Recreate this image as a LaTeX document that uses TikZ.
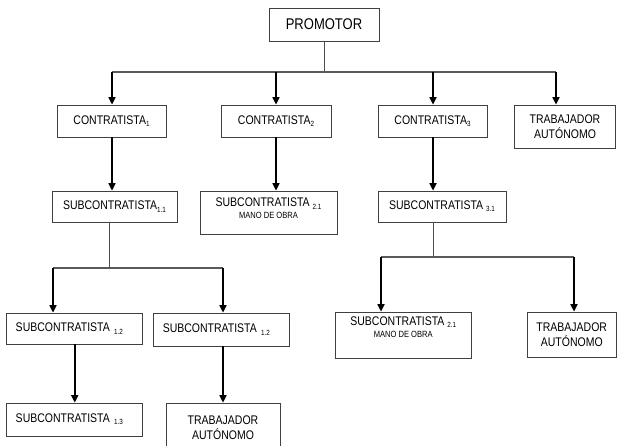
\documentclass[tikz,border=0pt]{standalone}
\usepackage{fontspec}
\setmainfont{Liberation Sans}[FakeStretch=0.84]
\usetikzlibrary{arrows.meta}
\newcommand{\idx}[1]{\raisebox{-0.35ex}{\fontsize{7.5}{8}\selectfont #1}}

\begin{document}
\begin{tikzpicture}
[x=1pt,y=-1pt,
box/.style={draw=black!75,line width=0.8pt,inner sep=2pt,align=center,font=\fontsize{12.5}{15}\selectfont},
lbox/.style={box,align=left,inner xsep=9pt,text width=118pt,minimum height=31pt},
arr/.style={line width=1.6pt,-{Triangle[width=7pt,length=7.5pt]}},
bar/.style={line width=1.5pt,draw=black!65},
stem/.style={line width=0.8pt,draw=black!70}]
\useasboundingbox (0,0) rectangle (617,445);
\clip (0,0) rectangle (617,445);

\node[box,minimum width=110pt,minimum height=33pt,font=\fontsize{15.5}{17}\selectfont] (prom) at (324,24.5) {PROMOTOR};

\node[box,minimum width=109pt,minimum height=32pt] (c1) at (111.5,121) {CONTRATISTA\idx{1}};
\node[box,minimum width=110pt,minimum height=32pt] (c2) at (276,121) {CONTRATISTA\idx{2}};
\node[box,minimum width=109pt,minimum height=32pt] (c3) at (432.5,121) {CONTRATISTA\idx{3}};
\node[box,minimum width=101pt,minimum height=43pt] (ta1) at (565,126.5) {TRABAJADOR\\AUTÓNOMO};

\node[box,minimum width=125pt,minimum height=31pt] (s11) at (114.5,206.5) {SUBCONTRATISTA\idx{1.1}};
\node[box,minimum width=137pt,minimum height=43pt,text depth=8pt] (s21) at (268.5,212.5) {SUBCONTRATISTA \idx{2.1}\\[-3pt]{\fontsize{9}{10}\selectfont MANO DE OBRA}};
\node[box,minimum width=128pt,minimum height=31pt] (s31) at (442,206.5) {SUBCONTRATISTA \idx{3.1}};

\node[lbox] (s12a) at (74.75,328.5) {SUBCONTRATISTA \idx{1.2}};
\node[lbox,minimum height=33pt] (s12b) at (221.75,329.5) {SUBCONTRATISTA \idx{1.2}};
\node[box,minimum width=135.5pt,minimum height=46pt,text depth=16pt] (s21b) at (403.25,335) {SUBCONTRATISTA \idx{2.1}\\[-3pt]{\fontsize{9}{10}\selectfont MANO DE OBRA}};
\node[box,minimum width=88.5pt,minimum height=45pt] (ta2) at (571.75,334.5) {TRABAJADOR\\AUTÓNOMO};

\node[lbox,minimum height=33pt] (s13) at (74.75,419.5) {SUBCONTRATISTA \idx{1.3}};
\node[box,minimum width=114pt,minimum height=50pt] (ta3) at (223,428) {TRABAJADOR\\AUTÓNOMO};

\coordinate (j1) at (112,72);
\coordinate (j2) at (276,72);
\coordinate (j3) at (433,72);
\coordinate (j4) at (556,72);
\draw[stem] (prom) -- (prom |- j1);
\draw[bar] (j1) -- (j4);
\draw[arr] (j1) -- (j1 |- c1.north);
\draw[arr] (j2) -- (j2 |- c2.north);
\draw[arr] (j3) -- (j3 |- c3.north);
\draw[arr] (j4) -- (j4 |- ta1.north);

\draw[arr] (c1.south -| j1) -- (j1 |- s11.north);
\draw[arr] (c2.south -| j2) -- (j2 |- s21.north);
\draw[arr] (c3.south -| j3) -- (j3 |- s31.north);

\coordinate (k1) at (109.4,268);
\coordinate (k1a) at (53,268);
\coordinate (k1b) at (223,268);
\draw[stem] (s11.south -| k1) -- (k1);
\draw[bar] (k1a) -- (k1b);
\draw[arr] (k1a) -- (k1a |- s12a.north);
\draw[arr] (k1b) -- (k1b |- s12b.north);

\coordinate (k3) at (433,257);
\coordinate (k3a) at (381,257);
\coordinate (k3b) at (574,257);
\draw[stem] (s31.south -| k3) -- (k3);
\draw[bar] (k3a) -- (k3b);
\draw[arr] (k3a) -- (k3a |- s21b.north);
\draw[arr] (k3b) -- (k3b |- ta2.north);

\draw[arr] (s12a) -- (s13);
\draw[arr] (ta3.north |- s12b.south) -- (ta3.north);
\end{tikzpicture}
\end{document}
